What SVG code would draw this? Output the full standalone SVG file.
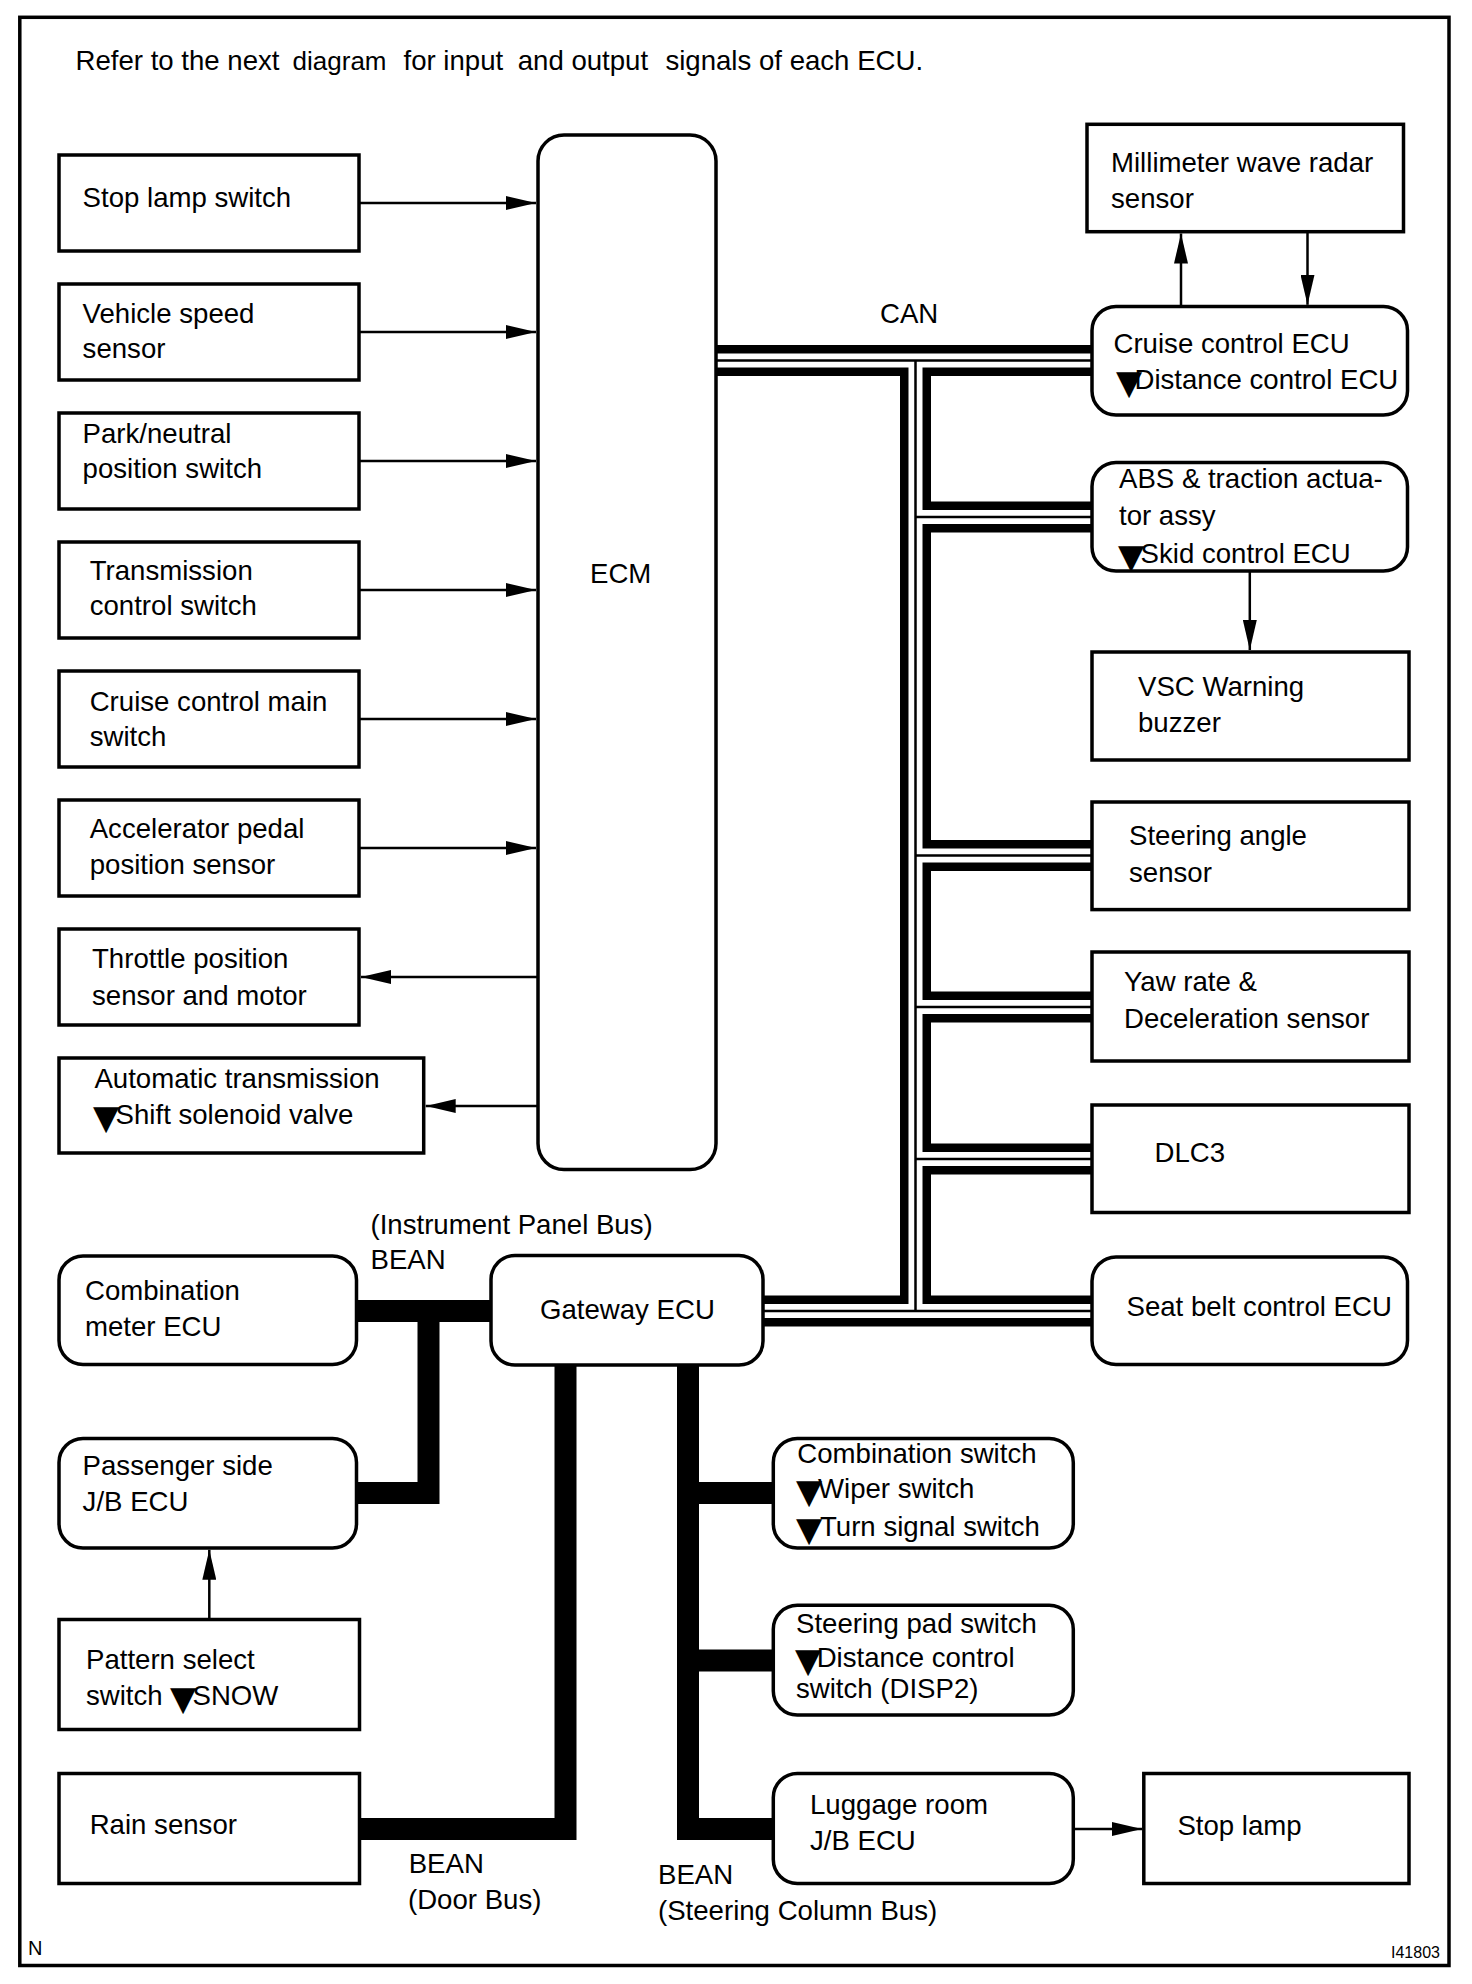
<svg xmlns="http://www.w3.org/2000/svg" width="1472" height="1984" viewBox="0 0 1472 1984">
<style>
.box{fill:#fff;stroke:#000;stroke-width:3.5}
.t{font-family:"Liberation Sans",Arial,sans-serif;font-size:27.6px;fill:#000}
.tri{font-family:"DejaVu Sans",sans-serif;font-size:34px}
.arr{stroke:#000;stroke-width:2.5;fill:none;marker-end:url(#ah)}
.bean{stroke:#000;stroke-width:22;fill:none;stroke-linejoin:miter;stroke-linecap:butt}
.canA{stroke:#000;stroke-width:31;fill:none;stroke-linejoin:miter}
.canB{stroke:#fff;stroke-width:14;fill:none;stroke-linejoin:miter}
.canC{stroke:#000;stroke-width:2.5;fill:none}
</style>
<defs>
<marker id="ah" viewBox="0 0 30 14" refX="30" refY="7" markerWidth="30" markerHeight="14" markerUnits="userSpaceOnUse" orient="auto">
<path d="M0,0 L30,7 L0,14 z" fill="#000"/>
</marker>
</defs>
<rect x="0" y="0" width="1472" height="1984" fill="#fff"/>
<rect x="19.8" y="17.3" width="1429.2" height="1948.2" fill="none" stroke="#000" stroke-width="3.5"/>
<text class="t" x="75.5" y="70">Refer to the next <tspan x="292.6" font-size="26">diagram</tspan><tspan x="403.5">for input</tspan><tspan x="517.7">and output</tspan><tspan x="665.4">signals of each ECU.</tspan></text>

<g id="connectors">
<g id="can-bus">
<path class="canA" d="M716,360.5 H1096 M915.5,360.5 V1311 M915.5,517 H1096 M915.5,855.5 H1096 M915.5,1007 H1096 M915.5,1159 H1096 M761,1311 H1096"/>
<path class="canB" d="M716,360.5 H1096 M915.5,360.5 V1311 M915.5,517 H1096 M915.5,855.5 H1096 M915.5,1007 H1096 M915.5,1159 H1096 M761,1311 H1096"/>
<path class="canC" d="M716,360.5 H1096 M915.5,360.5 V1311 M915.5,517 H1096 M915.5,855.5 H1096 M915.5,1007 H1096 M915.5,1159 H1096 M761,1311 H1096"/>
</g>
<g id="bean-bus">
<path class="bean" d="M354,1311 H495"/>
<path class="bean" d="M354,1493 H428.5 V1311"/>
<path class="bean" d="M354,1829 H565.5 V1362"/>
<path class="bean" d="M688,1362 V1829 H776"/>
<path class="bean" d="M688,1493 H776"/>
<path class="bean" d="M688,1660.5 H776"/>
</g>
<g id="arrows">
<path class="arr" d="M359,203 H536"/>
<path class="arr" d="M359,332 H536"/>
<path class="arr" d="M359,461 H536"/>
<path class="arr" d="M359,590 H536"/>
<path class="arr" d="M359,719 H536"/>
<path class="arr" d="M359,848 H536"/>
<path class="arr" d="M538,977 H361"/>
<path class="arr" d="M538,1106 H425.7"/>
<path class="arr" d="M1181,306.5 V233.5"/>
<path class="arr" d="M1307.5,231.7 V304.8"/>
<path class="arr" d="M1249.8,571 V650"/>
<path class="arr" d="M209.3,1619.5 V1549.8"/>
<path class="arr" d="M1073.3,1829 H1142"/>
</g>
</g>

<g id="stop-lamp-switch"><rect class="box" x="59" y="155" width="300" height="96"/><text class="t" x="82.6" y="207">Stop lamp switch</text></g>
<g id="vehicle-speed-sensor"><rect class="box" x="59" y="284" width="300" height="96"/><text class="t"><tspan x="82.6" y="322.7">Vehicle speed</tspan><tspan x="82.6" y="358.3">sensor</tspan></text></g>
<g id="park-neutral-switch"><rect class="box" x="59" y="413" width="300" height="96"/><text class="t"><tspan x="82.6" y="442.7">Park/neutral</tspan><tspan x="82.6" y="478">position switch</tspan></text></g>
<g id="transmission-control-switch"><rect class="box" x="59" y="542" width="300" height="96"/><text class="t"><tspan x="89.7" y="579.5">Transmission</tspan><tspan x="89.7" y="615">control switch</tspan></text></g>
<g id="cruise-control-main-switch"><rect class="box" x="59" y="671" width="300" height="96"/><text class="t"><tspan x="89.7" y="710.7">Cruise control main</tspan><tspan x="89.7" y="746.4">switch</tspan></text></g>
<g id="accelerator-pedal-sensor"><rect class="box" x="59" y="800" width="300" height="96"/><text class="t"><tspan x="89.7" y="838.4">Accelerator pedal</tspan><tspan x="89.7" y="874">position sensor</tspan></text></g>
<g id="throttle-position-sensor"><rect class="box" x="59" y="929" width="300" height="96"/><text class="t"><tspan x="92" y="968">Throttle position</tspan><tspan x="92" y="1004.5">sensor and motor</tspan></text></g>
<g id="automatic-transmission"><rect class="box" x="59" y="1058" width="364.7" height="95"/><text class="t"><tspan x="94.4" y="1088.4">Automatic transmission</tspan><tspan class="tri" x="93" y="1129">▼</tspan><tspan x="115.6" y="1124">Shift solenoid valve</tspan></text></g>

<g id="ecm"><rect class="box" x="538" y="135" width="178" height="1034.6" rx="26"/><text class="t" x="590" y="582.6">ECM</text></g>

<g id="millimeter-wave-radar"><rect class="box" x="1087" y="124.3" width="316.5" height="107.4"/><text class="t"><tspan x="1111" y="171.7">Millimeter wave radar</tspan><tspan x="1111" y="208.3">sensor</tspan></text></g>
<g id="cruise-control-ecu"><rect class="box" x="1092" y="306.5" width="315.5" height="108.5" rx="24"/><text class="t"><tspan x="1113.5" y="353.3">Cruise control ECU</tspan><tspan class="tri" x="1116" y="394.3">▼</tspan><tspan x="1134.5" y="389.3">Distance control ECU</tspan></text></g>
<g id="abs-actuator"><rect class="box" x="1092" y="462.5" width="315.5" height="108.5" rx="24"/><text class="t"><tspan x="1119" y="488.3">ABS &amp; traction actua-</tspan><tspan x="1119" y="524.5">tor assy</tspan><tspan class="tri" x="1118" y="567.5">▼</tspan><tspan x="1140.6" y="562.5">Skid control ECU</tspan></text></g>
<g id="vsc-warning-buzzer"><rect class="box" x="1092" y="652" width="317" height="108"/><text class="t"><tspan x="1138" y="696.4">VSC Warning</tspan><tspan x="1138" y="732">buzzer</tspan></text></g>
<g id="steering-angle-sensor"><rect class="box" x="1092" y="802" width="317" height="107.6"/><text class="t"><tspan x="1129" y="845">Steering angle</tspan><tspan x="1129" y="881.7">sensor</tspan></text></g>
<g id="yaw-rate-sensor"><rect class="box" x="1092" y="952" width="317" height="109"/><text class="t"><tspan x="1124" y="991">Yaw rate &amp;</tspan><tspan x="1124" y="1028">Deceleration sensor</tspan></text></g>
<g id="dlc3"><rect class="box" x="1092" y="1105" width="317" height="107.5"/><text class="t" x="1154.6" y="1162">DLC3</text></g>
<g id="seat-belt-control-ecu"><rect class="box" x="1092" y="1257" width="315.5" height="107.5" rx="24"/><text class="t" x="1126.5" y="1316">Seat belt control ECU</text></g>

<g id="combination-meter-ecu"><rect class="box" x="59" y="1256" width="297.5" height="108.5" rx="24"/><text class="t"><tspan x="85" y="1300">Combination</tspan><tspan x="85" y="1336">meter ECU</tspan></text></g>
<g id="gateway-ecu"><rect class="box" x="491" y="1255.5" width="272" height="109.5" rx="24"/><text class="t" x="540" y="1319">Gateway ECU</text></g>
<g id="passenger-side-jb-ecu"><rect class="box" x="59" y="1438.5" width="297.5" height="109.5" rx="24"/><text class="t"><tspan x="82.6" y="1475">Passenger side</tspan><tspan x="82.6" y="1511">J/B ECU</tspan></text></g>
<g id="pattern-select-switch"><rect class="box" x="59" y="1619.5" width="300.5" height="110"/><text class="t"><tspan x="86" y="1668.5">Pattern select</tspan><tspan x="86" y="1705">switch </tspan><tspan class="tri" x="170" y="1710">▼</tspan><tspan x="192.5" y="1705">SNOW</tspan></text></g>
<g id="rain-sensor"><rect class="box" x="59" y="1773.5" width="300.5" height="110"/><text class="t" x="89.7" y="1834">Rain sensor</text></g>
<g id="combination-switch"><rect class="box" x="773.3" y="1438.5" width="300" height="109.5" rx="24"/><text class="t"><tspan x="797.3" y="1462.7">Combination switch</tspan><tspan class="tri" x="796" y="1503">▼</tspan><tspan x="818" y="1498">Wiper switch</tspan><tspan class="tri" x="796" y="1541">▼</tspan><tspan x="820" y="1536">Turn signal switch</tspan></text></g>
<g id="steering-pad-switch"><rect class="box" x="773.3" y="1605.3" width="300" height="109.7" rx="24"/><text class="t"><tspan x="796" y="1633.3">Steering pad switch</tspan><tspan class="tri" x="795" y="1671.7">▼</tspan><tspan x="816.7" y="1666.7">Distance control</tspan><tspan x="796" y="1697.7">switch (DISP2)</tspan></text></g>
<g id="luggage-room-jb-ecu"><rect class="box" x="773.3" y="1773.5" width="300" height="110" rx="24"/><text class="t"><tspan x="810" y="1814">Luggage room</tspan><tspan x="810" y="1850">J/B ECU</tspan></text></g>
<g id="stop-lamp"><rect class="box" x="1143.8" y="1773.5" width="265.2" height="110"/><text class="t" x="1177.4" y="1835">Stop lamp</text></g>

<g id="labels">
<text class="t" x="880" y="322.7">CAN</text>
<text class="t" x="370.5" y="1234">(Instrument Panel Bus)</text>
<text class="t" x="370.5" y="1268.5">BEAN</text>
<text class="t" x="408.7" y="1872.5">BEAN</text>
<text class="t" x="408" y="1909">(Door Bus)</text>
<text class="t" x="658" y="1884">BEAN</text>
<text class="t" x="658" y="1920">(Steering Column Bus)</text>
<text class="t" x="28" y="1955" style="font-size:20px">N</text>
<text class="t" x="1391" y="1957.5" style="font-size:16px">I41803</text>
</g>
</svg>
